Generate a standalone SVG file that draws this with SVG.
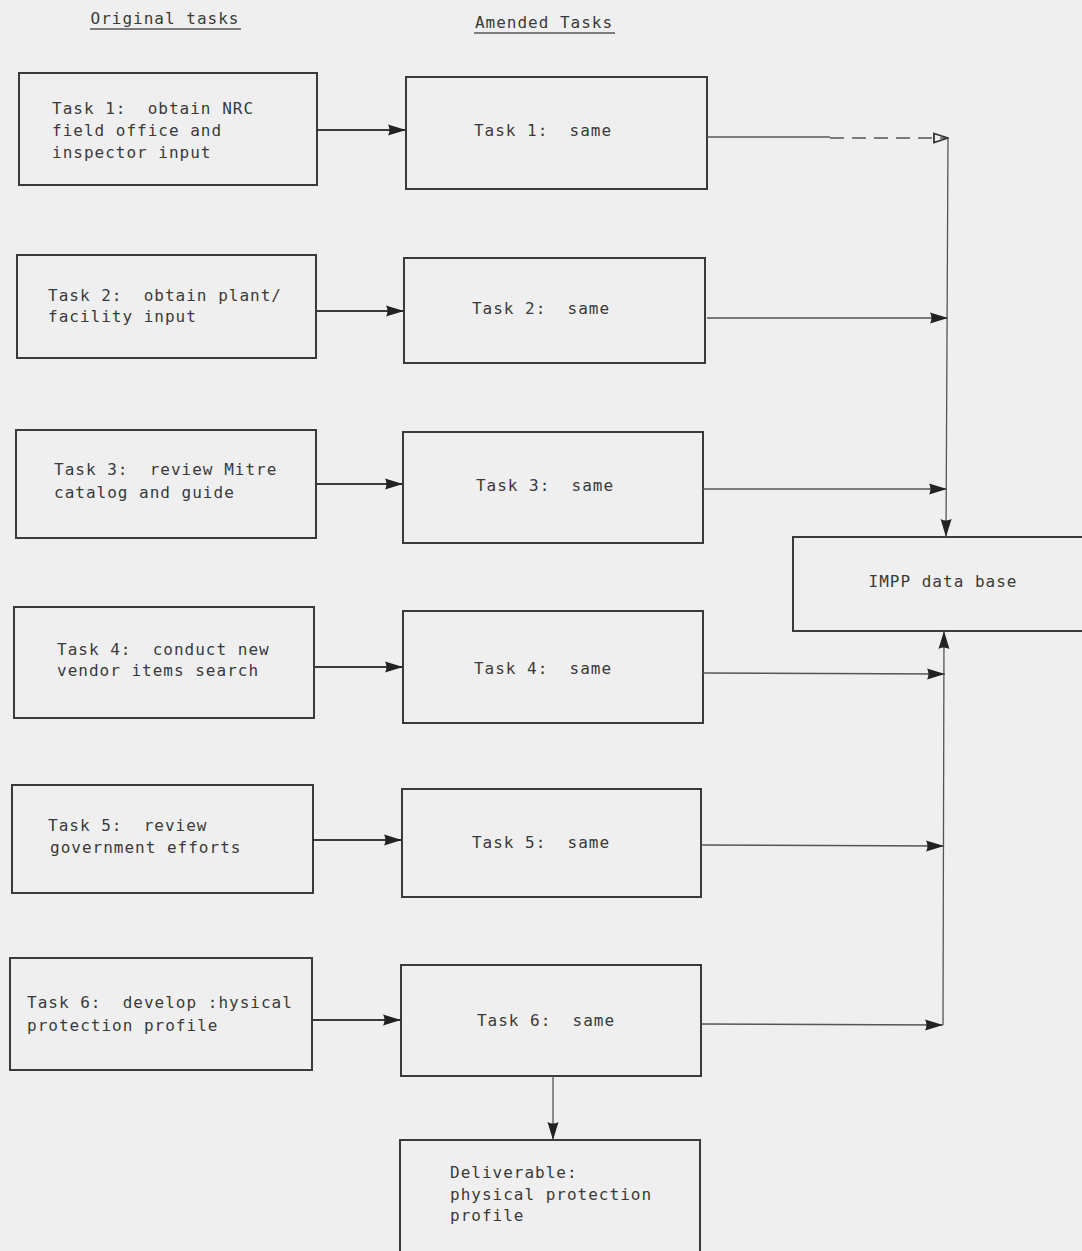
<svg xmlns="http://www.w3.org/2000/svg" width="1082" height="1251" viewBox="0 0 1082 1251">
  <style>
    .box { fill: none; stroke: #3a3a3a; stroke-width: 2; }
    .t { font-family: "DejaVu Sans Mono", "Liberation Mono", monospace; font-size: 16px; letter-spacing: 1px; fill: #3a3a3a; white-space: pre; }
    .c { text-anchor: middle; }
    .ln { fill: none; stroke: #3a3a3a; stroke-width: 2; }
    .thin { fill: none; stroke: #555; stroke-width: 1.3; }
    .ul { stroke: #555; stroke-width: 1.5; }
  </style>
  <defs>
    <marker id="arr" viewBox="0 0 18 12" refX="18" refY="6" markerWidth="18" markerHeight="12" markerUnits="userSpaceOnUse" orient="auto">
      <path d="M0,0.5 L18,6 L0,11.5 Q3,6 0,0.5 Z" fill="#222"/>
    </marker>
    <marker id="arrOpen" viewBox="0 0 16 12" refX="15" refY="6" markerWidth="16" markerHeight="12" markerUnits="userSpaceOnUse" orient="auto">
      <path d="M1,1.5 L15,6 L1,10.5 Z" fill="none" stroke="#333" stroke-width="1.8"/>
    </marker>
  </defs>

  <rect width="1082" height="1251" fill="#efefef"/>

  <!-- column headings -->
  <g id="headings">
    <text class="t c" x="165" y="24">Original tasks</text>
    <line class="ul" x1="90" y1="29" x2="241" y2="29"/>
    <text class="t c" x="544" y="28">Amended Tasks</text>
    <line class="ul" x1="474" y1="33" x2="615" y2="33"/>
  </g>

  <!-- original task boxes -->
  <g id="orig1">
    <rect class="box" x="19" y="73" width="298" height="112"/>
    <text class="t" x="52" y="114">Task 1:  obtain NRC</text>
    <text class="t" x="52" y="136">field office and</text>
    <text class="t" x="52" y="158">inspector input</text>
  </g>
  <g id="orig2">
    <rect class="box" x="17" y="255" width="299" height="103"/>
    <text class="t" x="48" y="301">Task 2:  obtain plant/</text>
    <text class="t" x="48" y="322">facility input</text>
  </g>
  <g id="orig3">
    <rect class="box" x="16" y="430" width="300" height="108"/>
    <text class="t" x="54" y="475">Task 3:  review Mitre</text>
    <text class="t" x="54" y="498">catalog and guide</text>
  </g>
  <g id="orig4">
    <rect class="box" x="14" y="607" width="300" height="111"/>
    <text class="t" x="57" y="655">Task 4:  conduct new</text>
    <text class="t" x="57" y="676">vendor items search</text>
  </g>
  <g id="orig5">
    <rect class="box" x="12" y="785" width="301" height="108"/>
    <text class="t" x="48" y="831">Task 5:  review</text>
    <text class="t" x="50" y="853">government efforts</text>
  </g>
  <g id="orig6">
    <rect class="box" x="10" y="958" width="302" height="112"/>
    <text class="t" x="27" y="1008">Task 6:  develop :hysical</text>
    <text class="t" x="27" y="1031">protection profile</text>
  </g>

  <!-- amended task boxes -->
  <g id="amend1">
    <rect class="box" x="406" y="77" width="301" height="112"/>
    <text class="t c" x="543" y="136">Task 1:  same</text>
  </g>
  <g id="amend2">
    <rect class="box" x="404" y="258" width="301" height="105"/>
    <text class="t c" x="541" y="314">Task 2:  same</text>
  </g>
  <g id="amend3">
    <rect class="box" x="403" y="432" width="300" height="111"/>
    <text class="t c" x="545" y="491">Task 3:  same</text>
  </g>
  <g id="amend4">
    <rect class="box" x="403" y="611" width="300" height="112"/>
    <text class="t c" x="543" y="674">Task 4:  same</text>
  </g>
  <g id="amend5">
    <rect class="box" x="402" y="789" width="299" height="108"/>
    <text class="t c" x="541" y="848">Task 5:  same</text>
  </g>
  <g id="amend6">
    <rect class="box" x="401" y="965" width="300" height="111"/>
    <text class="t c" x="546" y="1026">Task 6:  same</text>
  </g>

  <!-- final outputs -->
  <g id="deliverable">
    <rect class="box" x="400" y="1140" width="300" height="112"/>
    <text class="t" x="450" y="1178">Deliverable:</text>
    <text class="t" x="450" y="1200">physical protection</text>
    <text class="t" x="450" y="1221">profile</text>
  </g>
  <g id="impp">
    <rect class="box" x="793" y="537" width="292" height="94"/>
    <text class="t c" x="943" y="587">IMPP data base</text>
  </g>

  <!-- connectors -->
  <g id="connectors">
    <line class="ln" x1="317" y1="130" x2="406" y2="130" marker-end="url(#arr)"/>
    <line class="ln" x1="316" y1="311" x2="404" y2="311" marker-end="url(#arr)"/>
    <line class="ln" x1="316" y1="484" x2="403" y2="484" marker-end="url(#arr)"/>
    <line class="ln" x1="314" y1="667" x2="403" y2="667" marker-end="url(#arr)"/>
    <line class="ln" x1="313" y1="840" x2="402" y2="840" marker-end="url(#arr)"/>
    <line class="ln" x1="312" y1="1020" x2="401" y2="1020" marker-end="url(#arr)"/>

    <!-- Task 1 feed: solid then broken into an open head -->
    <line class="thin" x1="707" y1="137" x2="830" y2="137"/>
    <line class="thin" x1="830" y1="138" x2="948" y2="138" stroke-dasharray="14,8" marker-end="url(#arrOpen)"/>
    <line class="thin" x1="707" y1="318" x2="948" y2="318" marker-end="url(#arr)"/>
    <line class="thin" x1="703" y1="489" x2="947" y2="489" marker-end="url(#arr)"/>

    <!-- upper bus into the data base -->
    <line class="thin" x1="948" y1="138" x2="946" y2="537" marker-end="url(#arr)"/>

    <line class="thin" x1="703" y1="673" x2="945" y2="674" marker-end="url(#arr)"/>
    <line class="thin" x1="701" y1="845" x2="944" y2="846" marker-end="url(#arr)"/>
    <line class="thin" x1="701" y1="1024" x2="943" y2="1025" marker-end="url(#arr)"/>

    <!-- lower bus into the data base -->
    <line class="thin" x1="943" y1="1025" x2="944" y2="631" marker-end="url(#arr)"/>

    <!-- Task 6 to deliverable -->
    <line class="thin" x1="553" y1="1076" x2="553" y2="1140" marker-end="url(#arr)"/>
  </g>
</svg>
